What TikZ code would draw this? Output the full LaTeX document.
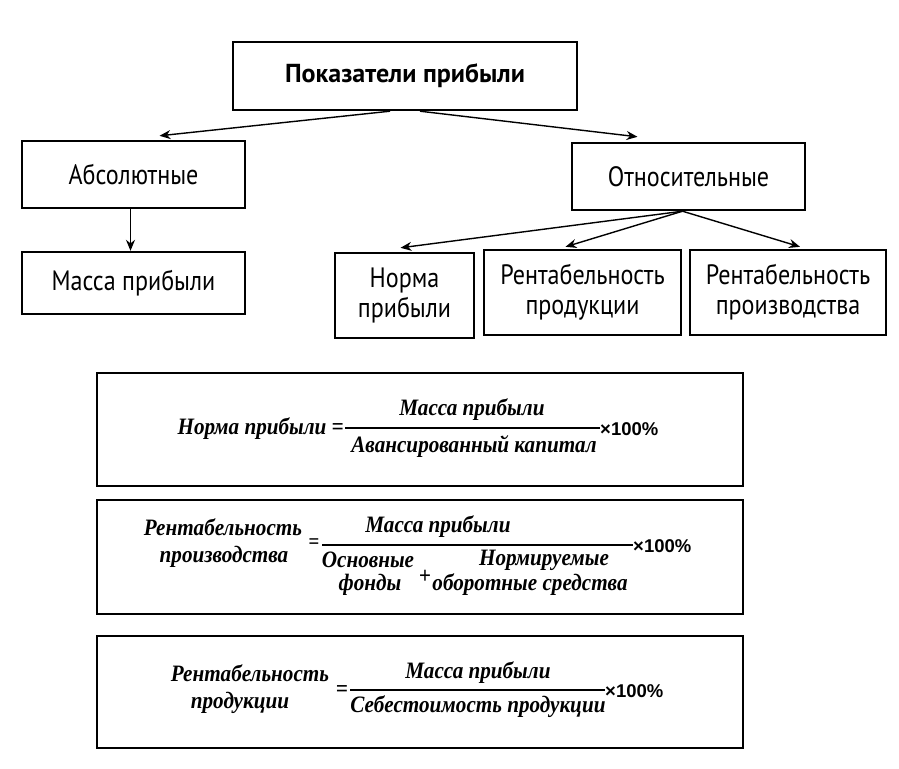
\documentclass[tikz,border=0pt]{standalone}
\usepackage{fontspec}
\setmainfont{Liberation Serif}
\newfontfamily\diagfont[FakeStretch=0.86]{PT Sans}
\newfontfamily\diagwide{PT Sans}
\newfontfamily\formfont[FakeStretch=0.9]{Liberation Serif}
\newfontfamily\pctfont{Liberation Sans}
\usetikzlibrary{arrows.meta}
\begin{document}
\begin{tikzpicture}[x=1pt,y=-1pt,
  box/.style={draw, line width=2.4pt, inner sep=0pt, font=\diagfont\fontsize{28}{30}\selectfont, align=center},
  fbox/.style={draw, line width=2.6pt},
  arr/.style={line width=1.4pt, -{Stealth[length=11pt,width=9pt]}},
  ft/.style={inner sep=0pt, font=\formfont\bfseries\itshape\fontsize{23.5}{26}\selectfont},
  fx/.style={inner sep=0pt, font=\pctfont\bfseries\fontsize{18.5}{22}\selectfont},
  bar/.style={line width=1.2pt}]
\useasboundingbox (0,0) rectangle (899,768);
% top diagram
\node[box, minimum width=344pt, minimum height=68pt, font=\diagwide\bfseries\fontsize{26}{30}\selectfont] (top) at (405,76) {Показатели прибыли};
\node[box, minimum width=223pt, minimum height=67pt] (abs) at (133.5,174.5) {Абсолютные};
\node[box, minimum width=233pt, minimum height=67pt] (rel) at (688.5,176.5) {Относительные};
\node[box, minimum width=223pt, minimum height=62pt] (mass) at (133.5,283) {Масса прибыли};
\node[box, minimum width=139pt, minimum height=85pt] (norm) at (404.5,295.5) {Норма\\прибыли};
\node[box, minimum width=197pt, minimum height=85pt] (rprod) at (582.5,292.5) {Рентабельность\\продукции};
\node[box, minimum width=196pt, minimum height=85pt] (rpro) at (788,292.5) {Рентабельность\\производства};
\draw[arr] ([xshift=-15pt]top.south) -- ([xshift=26pt,yshift=4pt]abs.north);
\draw[arr] ([xshift=15pt]top.south) -- ([xshift=-51pt,yshift=5pt]rel.north);
\draw[arr] ([xshift=-3pt]abs.south) -- ([xshift=-3pt]mass.north);
\draw[arr] ([xshift=-6pt]rel.south) -- ([xshift=-4pt,yshift=4pt]norm.north);
\draw[arr] ([xshift=-6pt]rel.south) -- ([xshift=-17pt,yshift=2pt]rprod.north);
\draw[arr] ([xshift=-6pt]rel.south) -- ([xshift=12pt,yshift=2pt]rpro.north);
% formula boxes
\draw[fbox] (97,373) rectangle (743,486);
\draw[fbox] (97,500) rectangle (743,614);
\draw[fbox] (97,636) rectangle (743,748);
% formula 1
\node[ft, anchor=east] (f1l) at (344,429) {Норма прибыли =};
\node[ft] (f1n) at (472,410) {Масса прибыли};
\node[ft] (f1d) at (474,447) {Авансированный капитал};
\draw[bar] (345,428) -- (600,428);
\node[fx, anchor=west] (f1x) at (600,429) {×100\%};
% formula 2
\node[ft] (f2a) at (223,527) {Рентабельность};
\node[ft] (f2b) at (224,557) {производства};
\node[ft, font=\formfont\bfseries\fontsize{21}{24}\selectfont] (f2eq) at (314,544) {=};
\node[ft] (f2n) at (438,527) {Масса прибыли};
\draw[bar] (322,545) -- (633,545);
\node[ft] (f2d1) at (368,560) {Основные};
\node[ft] (f2d2) at (370,585) {фонды};
\node[ft] (f2plus) at (425,577) {+};
\node[ft] (f2d3) at (544,560) {Нормируемые};
\node[ft] (f2d4) at (530,585) {оборотные средства};
\node[fx, anchor=west] (f2x) at (633,546) {×100\%};
% formula 3
\node[ft] (f3a) at (250,673) {Рентабельность};
\node[ft] (f3b) at (240,703) {продукции};
\node[ft] (f3eq) at (342,691) {=};
\node[ft] (f3n) at (478,673) {Масса прибыли};
\draw[bar] (350,690) -- (605,690);
\node[ft] (f3d) at (478,707) {Себестоимость продукции};
\node[fx, anchor=west] (f3x) at (605,691) {×100\%};
\end{tikzpicture}
\end{document}
